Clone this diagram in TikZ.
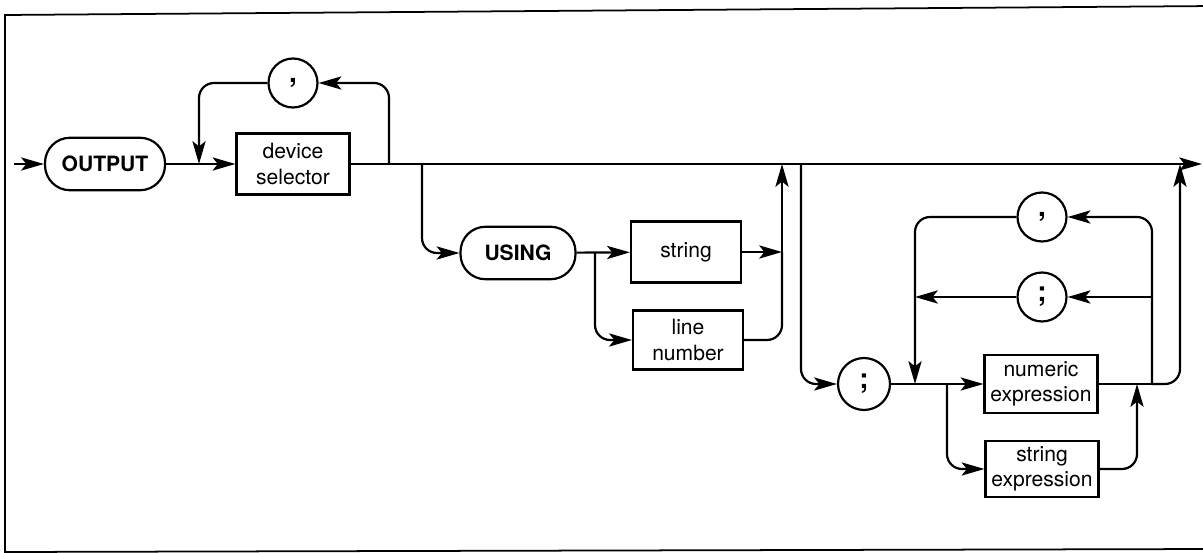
\documentclass[tikz,border=0pt]{standalone}
\usepackage{fontspec}
\setmainfont{TeX Gyre Heros}
\usepackage{tikz}
\usetikzlibrary{positioning,arrows.meta,calc}

\begin{document}
\begin{tikzpicture}[
  x=0.02cm, y=-0.02cm,
  line width=1.25pt,
  >={Stealth[length=13pt,width=7.5pt,inset=3pt]},
  box/.style={draw, minimum width=2.2cm, minimum height=1.18cm, align=center,
              font=\fontsize{12}{14.5}\selectfont},
  keyword/.style={draw, rounded corners=0.5cm, minimum width=2.3cm,
                  minimum height=1.05cm, font=\fontsize{12}{13}\selectfont\bfseries},
  sep/.style={draw, circle, minimum size=0.98cm, inner sep=0pt,
              font=\fontsize{16}{16}\selectfont\bfseries},
  round/.style={rounded corners=0.3cm}
]
  \useasboundingbox (0,0) rectangle (1203,553);

  % Frame
  \draw[line width=1pt] (1215,549) -- (5,552) -- (5,15) -- (1215,6);

  % Statement head
  \node[keyword, minimum width=2.4cm] (output) at (105,164) {OUTPUT};
  \node[box, minimum width=2.26cm, minimum height=1.22cm] (devsel) at (293,164)
    {device\\selector};
  \node[sep] (comma1) at (293,83) {,};

  % USING part
  \node[keyword] (using) at (518,253) {USING};
  \node[box, minimum height=1.22cm] (str) at (686,252) {string};
  \node[box] (linenum) at (688,340) {line\\number};

  % Output list
  \node[sep, minimum size=1.04cm] (semi1) at (864,384) {;};
  \node[box, minimum width=2.16cm, minimum height=1.16cm] (numexp) at (1041,384)
    {numeric\\expression};
  \node[box, minimum width=2.16cm, minimum height=1.12cm] (strexp) at (1042,469)
    {string\\expression};
  \node[sep] (comma2) at (1042,217) {,};
  \node[sep] (semi2) at (1042,297) {;};

  % Junctions
  \coordinate (start) at (14,164);
  \coordinate (exit) at (1202,164);
  \coordinate (lp1) at (389,164);
  \coordinate (lp2) at (199,164);
  \coordinate (b1) at (422,164);
  \coordinate (b2) at (595,253);
  \coordinate (j3) at (782,252);
  \coordinate (j3top) at (782,164);
  \coordinate (b3) at (801,164);
  \coordinate (j4) at (915,384);
  \coordinate (b4) at (947,384);
  \coordinate (j5) at (1137,384);
  \coordinate (j6) at (1152,384);
  \coordinate (j7) at (1180,164);
  \coordinate (j8) at (1152,297);
  \coordinate (j9) at (915,297);

  % Main line
  \draw[->] (start) -- (output);
  \draw[->] (output) -- (devsel);
  \draw[->] (devsel) -- (exit);
  \draw[->, round] (lp1) |- (comma1);
  \draw[->, round] (comma1) -| (lp2);

  % USING branch
  \draw[->, round] (b1) |- (using);
  \draw[->] (using) -- (str);
  \draw[->, round] (b2) |- (linenum);
  \draw[->] (str) -- (j3);
  \draw[round] (linenum) -| (j3);
  \draw[->] (j3) -- (j3top);

  % List branch
  \draw[->, round] (b3) |- (semi1);
  \draw (semi1) -- (j4);
  \draw[->] (j4) -- (numexp);
  \draw[->, round] (b4) |- (strexp);
  \draw[->, round] (strexp) -| (j5);
  \draw (numexp) -- (j6);
  \draw[->, round] (j6) -| (j7);
  \draw[->, round] (j6) |- (comma2);
  \draw[->] (j8) -- (semi2);
  \draw[->, round] (comma2) -| (j4);
  \draw[->] (semi2) -- (j9);
\end{tikzpicture}
\end{document}
